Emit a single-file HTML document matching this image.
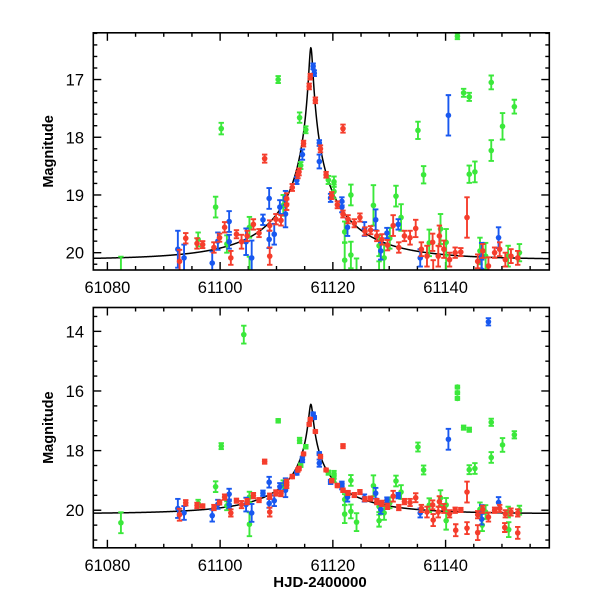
<!DOCTYPE html>
<html><head><meta charset="utf-8"><style>
html,body{margin:0;padding:0;background:#fff;}
svg text{font-family:"Liberation Sans",sans-serif;fill:#000;}
</style></head><body>
<svg id="chart" width="600" height="600" viewBox="0 0 600 600" xmlns="http://www.w3.org/2000/svg"></svg>
<script>
// ---- data (HJD-2400000, magnitude, error) ----
const redT=[61092.8,61093.9,61095.9,61096.9,61098.9,61099.9,61100.8,61101.9,61102.9,61103.8,61104.8,61105.9,61106.9,61107.9,61108.8,61108.8,61109.9,61110.8,61111.8,61111.8,61112.8,61113.8,61114.0,61114.8,61115.8,61116.0,61116.9,61117.8,61118.8,61119.8,61120.8,61121.8,61121.8,61122.7,61123.8,61124.8,61125.7,61126.7,61127.8,61128.7,61129.7,61130.7,61131.7,61132.7,61133.7,61134.7,61135.7,61136.7,61137.7,61138.7,61138.9,61139.7,61140.7,61141.7,61142.7,61143.8,61145.7,61146.6,61147.6,61148.7,61149.6,61150.6,61151.6,61152.8,61141.8,61143.8,61145.7,61152.8,61137.8,61150.5];
const redM=[20.15,19.75,19.84,19.86,19.91,19.74,19.56,20.09,19.68,19.81,19.71,19.51,19.66,18.37,20.06,19.53,19.42,19.44,19.06,19.17,18.87,18.65,18.6,18.11,17.12,16.95,17.36,18.2,18.65,19.01,19.17,19.33,17.85,19.42,19.49,19.39,19.63,19.61,19.71,19.77,19.87,19.53,19.91,19.71,19.74,19.58,19.94,20.06,19.82,20.06,19.71,19.94,20.12,20.0,19.99,19.39,20.15,19.97,20.23,20.0,19.94,20.12,20.06,20.09,20.67,20.6,20.75,20.76,20.33,20.58];
const redE=[0.2,0.09,0.09,0.06,0.09,0.07,0.09,0.12,0.07,0.12,0.09,0.09,0.07,0.07,0.15,0.09,0.09,0.09,0.09,0.09,0.06,0.06,0.06,0.05,0.05,0.05,0.05,0.06,0.05,0.06,0.06,0.06,0.07,0.07,0.07,0.07,0.07,0.07,0.09,0.09,0.09,0.18,0.09,0.09,0.12,0.15,0.12,0.18,0.15,0.18,0.18,0.15,0.12,0.09,0.07,0.35,0.12,0.12,0.15,0.09,0.12,0.12,0.12,0.12,0.2,0.2,0.25,0.2,0.2,0.15];
const blueT=[61092.5,61093.6,61098.6,61099.6,61101.6,61101.6,61104.6,61105.6,61107.6,61108.7,61108.7,61109.6,61110.6,61111.6,61111.6,61113.6,61114.6,61116.5,61116.7,61117.6,61117.6,61119.6,61121.6,61121.6,61122.6,61125.6,61127.6,61128.5,61129.6,61131.6,61135.5,61140.5,61146.4,61146.4,61149.4,61147.6];
const blueM=[19.94,20.09,20.18,19.8,19.46,19.81,19.81,20.09,19.43,19.06,19.77,19.68,19.21,19.33,19.05,18.75,18.3,16.77,16.89,18.1,18.42,19.05,19.11,19.21,19.56,19.59,19.43,19.97,19.66,19.51,20.09,17.62,20.06,20.3,19.74,13.68];
const blueE=[0.32,0.23,0.2,0.15,0.18,0.12,0.23,0.3,0.09,0.18,0.15,0.18,0.12,0.23,0.12,0.06,0.09,0.05,0.05,0.05,0.12,0.07,0.07,0.09,0.15,0.12,0.18,0.15,0.09,0.09,0.15,0.35,0.23,0.18,0.18,0.12];
const greenT=[61082.4,61096.1,61099.2,61100.2,61101.2,61105.2,61105.2,61110.3,61111.2,61114.1,61114.3,61115.2,61119.2,61120.2,61120.2,61122.1,61122.1,61123.2,61123.2,61124.2,61127.2,61128.2,61129.1,61130.1,61131.2,61132.1,61135.1,61136.1,61137.1,61139.1,61140.1,61142.1,61143.2,61144.2,61144.2,61145.2,61146.1,61147.1,61148.1,61148.1,61150.1,61151.1,61152.2,61153.1,61104.2,61142.1,61142.1,61146.5,61140.1,61128.2,61151.2];
const greenM=[20.42,19.77,19.21,17.85,19.85,20.47,19.56,17.0,19.18,17.66,18.49,17.87,18.74,18.77,18.94,19.64,20.13,19.0,20.04,20.4,19.18,19.88,20.09,19.75,19.02,19.39,17.88,18.65,19.83,19.59,19.82,16.25,17.23,17.3,18.64,18.6,19.97,20.06,17.05,18.23,17.81,20.06,17.47,20.0,14.11,15.87,16.06,20.5,20.35,20.35,20.65];
const greenE=[0.35,0.12,0.18,0.1,0.15,0.4,0.18,0.06,0.18,0.09,0.06,0.06,0.07,0.09,0.12,0.18,0.3,0.18,0.23,0.3,0.35,0.18,0.23,0.18,0.18,0.23,0.15,0.15,0.23,0.26,0.23,0.05,0.07,0.07,0.15,0.18,0.23,0.23,0.12,0.18,0.23,0.18,0.12,0.15,0.3,0.05,0.05,0.2,0.3,0.2,0.25];
// model (point-lens) parameters: t0, tE, u0, blend fraction, baseline mag
const modelParams=[61116.1,16,0.0207,0.6,20.12];
const xTickLabels=[61080,61100,61120,61140];
const topYTicks=[17,18,19,20];
const botYTicks=[14,16,18,20];

const NS='http://www.w3.org/2000/svg';
const svg=document.getElementById('chart');
function mk(tag,attrs,parent){const e=document.createElementNS(NS,tag);for(const k in attrs)e.setAttribute(k,attrs[k]);(parent||svg).appendChild(e);return e;}
const X0=93.3,X1=549.3,D0=61077.5,D1=61158.4;
function xs(t){return X0+(t-D0)/(D1-D0)*(X1-X0);}
function modelMag(t){const [t0,tE,u0,fs,base]=modelParams;const u=Math.sqrt(u0*u0+((t-t0)/tE)**2);const A=(u*u+2)/(u*Math.sqrt(u*u+4));return base-2.5*Math.log10(fs*A+1-fs);}

function panel(name,top,bot,m0,m1,yTicks,minorStep,showXLabel){
  const g=mk('g',{});
  
  
  const ys=m=>top+(m-m0)/(m1-m0)*(bot-top);
  const cid='clip-'+name;
  const cp=mk('clipPath',{id:cid},g);mk('rect',{x:X0,y:top,width:X1-X0,height:bot-top},cp);
  const tk=mk('g',{stroke:'#000','stroke-width':1.4},g);
  
  
  for(let t=61080;t<=61155;t+=5){const x=xs(t);const L=(t%20===0)?8:4;
    mk('line',{x1:x,y1:bot,x2:x,y2:bot-L},tk);mk('line',{x1:x,y1:top,x2:x,y2:top+L},tk);}
  const mstart=Math.ceil(m0/minorStep)*minorStep;
  for(let m=mstart;m<=m1+1e-9;m+=minorStep){const y=ys(m);const major=Math.abs(m-Math.round(m))<1e-6&&(yTicks.includes(Math.round(m)));const L=major?8:4;
    mk('line',{x1:X0,y1:y,x2:X0+L,y2:y},tk);mk('line',{x1:X1,y1:y,x2:X1-L,y2:y},tk);}
  xTickLabels.forEach(v=>{const t=mk('text',{x:xs(v),y:bot+23,'font-size':16.5,'text-anchor':'middle'},g);t.textContent=v;
    
    });
  yTicks.forEach(v=>{const t=mk('text',{x:84,y:ys(v)+6,'font-size':16.5,'text-anchor':'end'},g);t.textContent=v;
    
    });
  const yl=mk('text',{x:0,y:0,'font-size':14.5,'font-weight':'bold','text-anchor':'middle',transform:`translate(53,${(top+bot)/2}) rotate(-90)`},g);
  yl.textContent='Magnitude';
  
  
  const dg=mk('g',{'clip-path':`url(#${cid})`},g);
  let d='';for(let i=0;i<=1600;i++){const t=D0+(D1-D0)*i/1600;d+=(i?'L':'M')+xs(t).toFixed(2)+','+ys(modelMag(t)).toFixed(2);}
  const mp=mk('path',{d:d,fill:'none',stroke:'#000','stroke-width':1.5},dg);
  
  
  const series=[['green',greenT,greenM,greenE,'#3be83b'],['blue',blueT,blueM,blueE,'#1858f0'],['red',redT,redM,redE,'#f53d2c']];
  series.forEach(([nm,T,M,E,col])=>{
    const sg=mk('g',{},dg);
    
    
    T.forEach((t,i)=>{const x=xs(t),y=ys(M[i]),y1=ys(M[i]-E[i]),y2=ys(M[i]+E[i]);
      const p=mk('g',{stroke:col,'stroke-width':1.9,fill:col},sg);
      
      
      mk('line',{x1:x,y1:y1,x2:x,y2:y2},p);
      mk('line',{x1:x-2.7,y1:y1,x2:x+2.7,y2:y1},p);
      mk('line',{x1:x-2.7,y1:y2,x2:x+2.7,y2:y2},p);
      mk('circle',{cx:x,cy:y,r:2.8,stroke:'none'},p);
    });
  });
  const fr=mk('rect',{x:X0,y:top,width:X1-X0,height:bot-top,fill:'none',stroke:'#000','stroke-width':1.6},g);
  
  
  if(showXLabel){const xl=mk('text',{x:320,y:587,'font-size':15,'font-weight':'bold','text-anchor':'middle'},g);xl.textContent='HJD-2400000';
    
    }
}
panel('top-panel',32.8,270,16.19,20.30,topYTicks,0.2,false);
panel('bottom-panel',307.5,547.8,13.2,21.26,botYTicks,0.5,true);
</script>
</body></html>
